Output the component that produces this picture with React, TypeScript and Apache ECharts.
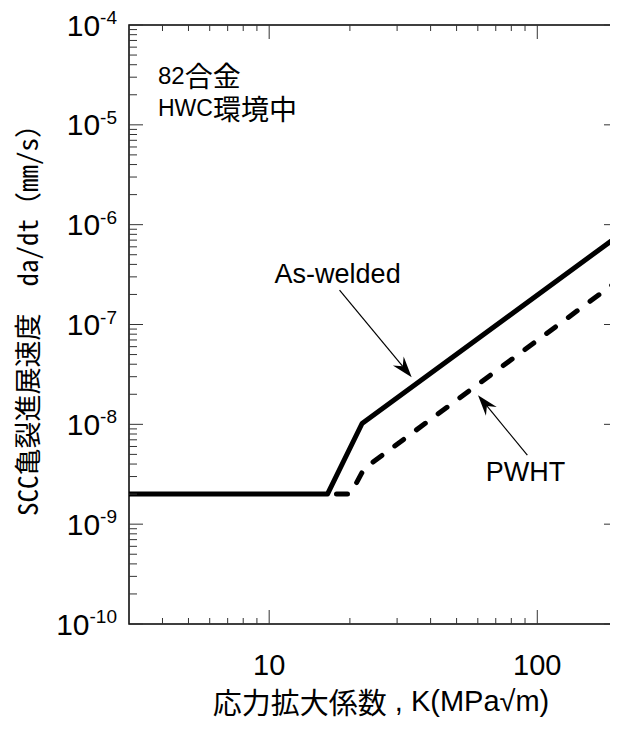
import React, { useEffect, useRef } from "react";
import * as echarts from "echarts";

// ---- data ----
const asWeldedK = [3, 16.5, 22.2, 200];
const asWeldedRate = [2e-9, 2e-9, 1.02e-8, 7.7e-7];
const pwhtK = [16.5, 20.1, 22.6, 200];
const pwhtRate = [2e-9, 2e-9, 3.6e-9, 2.75e-7];

// axis ticks / labels
const xLabelValues = [10, 100];
const xMajorTicks = [10, 100];
const xMinorTicks = [4, 5, 6, 7, 8, 9, 20, 30, 40, 50, 60, 70, 80, 90];
const yExponents = [-10, -9, -8, -7, -6, -5, -4];
const yMantissas = [2, 3, 4, 5, 6, 7, 8, 9];

// annotations (data units)
const arrowNames = ["As-welded", "PWHT"];
const arrowTailK = [18.3, 91.8];
const arrowTailRate = [2.21e-7, 4.91e-9];
const arrowTipK = [34.0, 60.1];
const arrowTipRate = [2.97e-8, 1.96e-8];
const nameK = [18.0, 90.3];
const nameRate = [3.2e-7, 3.32e-9];

const LATIN = '"Liberation Sans", Arial, sans-serif';
const CJK = '"Noto Sans CJK JP", sans-serif';
const MONO_CJK = '"Noto Sans Mono CJK JP", "Noto Sans CJK JP", monospace';

export default function App() {
  const ref = useRef<HTMLDivElement>(null);

  useEffect(() => {
    if (!ref.current) return;
    const chart = echarts.init(ref.current, null, { renderer: "svg" });

    const yMajorTicks = yExponents.map((e) => Math.pow(10, e));
    const yMinorTicks: number[] = [];
    yExponents.slice(0, -1).forEach((e) =>
      yMantissas.forEach((m) => yMinorTicks.push(m * Math.pow(10, e)))
    );

    const tickData: number[][] = [];
    xMajorTicks.forEach((v) => tickData.push([v, 1e-7, 0]));
    xMinorTicks.forEach((v) => tickData.push([v, 1e-7, 1]));
    yMajorTicks.forEach((v) => tickData.push([10, v, 2]));
    yMinorTicks.forEach((v) => tickData.push([10, v, 3]));

    const arrowData = arrowNames.map((_, i) => [
      arrowTipK[i],
      arrowTipRate[i],
      arrowTailK[i],
      arrowTailRate[i],
    ]);
    const nameData = arrowNames.map((_, i) => [nameK[i], nameRate[i]]);

    const tickStyle = { stroke: "#333", lineWidth: 1 };

    const option: any = {
      animation: false,
      backgroundColor: "#fff",
      grid: {
        left: 121,
        top: 17,
        width: 495,
        height: 599,
        show: true,
        borderColor: "#000",
        borderWidth: 1.5,
        backgroundColor: "transparent",
      },
      xAxis: {
        type: "log",
        logBase: 10,
        min: 3,
        max: 200,
        axisLine: { show: false },
        axisTick: { show: false },
        splitLine: { show: false },
        minorTick: { show: false },
        axisLabel: {
          margin: 26,
          color: "#000",
          fontSize: 29,
          lineHeight: 29,
          fontFamily: LATIN,
          showMinLabel: false,
          showMaxLabel: false,
          formatter: (v: number) => {
            const hit = xLabelValues.find((t) => Math.abs(t - v) / t < 1e-6);
            return hit ? String(hit) : "";
          },
        },
      },
      yAxis: {
        type: "log",
        logBase: 10,
        min: 1e-10,
        max: 1e-4,
        axisLine: { show: false },
        axisTick: { show: false },
        splitLine: { show: false },
        minorTick: { show: false },
        axisLabel: {
          margin: 12,
          formatter: (v: number) => {
            const lg = Math.log10(v);
            const e = Math.round(lg);
            if (Math.abs(lg - e) > 0.01) return "";
            return `{b|10}{s|${e}}`;
          },
          rich: {
            b: { fontSize: 30, fontFamily: LATIN, color: "#000", lineHeight: 34 },
            s: {
              fontSize: 19,
              fontFamily: LATIN,
              color: "#000",
              lineHeight: 19,
              verticalAlign: "top",
            },
          },
        },
      },
      series: [
        {
          name: "PWHT",
          type: "line",
          symbol: "none",
          data: pwhtK.map((k, i) => [k, pwhtRate[i]]),
          lineStyle: {
            color: "#000",
            width: 5,
            type: [11, 16],
            dashOffset: 17.5,
            cap: "round",
            join: "round",
          },
          z: 3,
        },
        {
          name: "As-welded",
          type: "line",
          symbol: "none",
          data: asWeldedK.map((k, i) => [k, asWeldedRate[i]]),
          lineStyle: { color: "#000", width: 5, cap: "butt", join: "round" },
          z: 4,
        },
        {
          type: "custom",
          name: "ticks",
          clip: false,
          silent: true,
          encode: { x: 0, y: 1 },
          data: tickData,
          z: 5,
          renderItem: (params: any, api: any) => {
            const cs = params.coordSys;
            const kind = api.value(2);
            const p = api.coord([api.value(0), api.value(1)]);
            const bottom = cs.y + cs.height;
            const right = cs.x + cs.width;
            if (kind < 2) {
              const len = kind === 0 ? 14 : 6;
              const x = p[0];
              return {
                type: "group",
                children: [
                  { type: "line", shape: { x1: x, y1: bottom, x2: x, y2: bottom - len }, style: tickStyle },
                  { type: "line", shape: { x1: x, y1: cs.y, x2: x, y2: cs.y + len }, style: tickStyle },
                ],
              };
            }
            const len = kind === 2 ? 14 : 8;
            const y = p[1];
            return {
              type: "group",
              children: [
                { type: "line", shape: { x1: cs.x, y1: y, x2: cs.x + len, y2: y }, style: tickStyle },
                { type: "line", shape: { x1: right, y1: y, x2: right - len, y2: y }, style: tickStyle },
              ],
            };
          },
        },
        {
          type: "custom",
          name: "arrows",
          clip: false,
          silent: true,
          encode: { x: [0, 2], y: [1, 3] },
          data: arrowData,
          z: 6,
          renderItem: (params: any, api: any) => {
            const tip = api.coord([api.value(0), api.value(1)]);
            const tail = api.coord([api.value(2), api.value(3)]);
            const dx = tip[0] - tail[0];
            const dy = tip[1] - tail[1];
            const L = Math.sqrt(dx * dx + dy * dy);
            const ux = dx / L;
            const uy = dy / L;
            const nx = -uy;
            const ny = ux;
            const head = 21;
            const half = 7;
            const notch = 14;
            const w1 = [tip[0] - ux * head + nx * half, tip[1] - uy * head + ny * half];
            const w2 = [tip[0] - ux * head - nx * half, tip[1] - uy * head - ny * half];
            const nt = [tip[0] - ux * notch, tip[1] - uy * notch];
            return {
              type: "group",
              children: [
                {
                  type: "line",
                  shape: { x1: tail[0], y1: tail[1], x2: nt[0], y2: nt[1] },
                  style: { stroke: "#000", lineWidth: 1.2 },
                },
                {
                  type: "polygon",
                  shape: { points: [tip, w1, nt, w2] },
                  style: { fill: "#000" },
                },
              ],
            };
          },
        },
        {
          type: "custom",
          name: "names",
          clip: false,
          silent: true,
          encode: { x: 0, y: 1 },
          data: nameData,
          z: 6,
          renderItem: (params: any, api: any) => {
            const p = api.coord([api.value(0), api.value(1)]);
            return {
              type: "text",
              x: p[0],
              y: p[1],
              style: {
                text: arrowNames[params.dataIndex],
                fill: "#000",
                fontSize: 27,
                fontFamily: LATIN,
                align: "center",
                verticalAlign: "middle",
              },
            };
          },
        },
      ],
      graphic: [
        {
          type: "text",
          x: 150,
          y: 67,
          style: {
            text: "{l|82}{c|合金}",
            verticalAlign: "middle",
            align: "left",
            rich: {
              l: { fontSize: 24, fontFamily: LATIN, fill: "#000" },
              c: { fontSize: 28, fontFamily: CJK, fill: "#000" },
            },
          },
        },
        {
          type: "text",
          x: 150,
          y: 100,
          style: {
            text: "{l|HWC}{c|環境中}",
            verticalAlign: "middle",
            align: "left",
            rich: {
              l: { fontSize: 23, fontFamily: LATIN, fill: "#000" },
              c: { fontSize: 28, fontFamily: CJK, fill: "#000" },
            },
          },
        },
        {
          type: "text",
          x: 18,
          y: 305.5,
          rotation: Math.PI / 2,
          style: {
            text: "SCC亀裂進展速度　da/dt（mm/s）",
            fontSize: 27,
            fontFamily: MONO_CJK,
            fill: "#000",
            align: "center",
            verticalAlign: "middle",
          },
        },
        {
          type: "text",
          x: 373,
          y: 693,
          style: {
            text: "{c|応力拡大係数}{l| , K(MPa√m)}",
            align: "center",
            verticalAlign: "middle",
            rich: {
              c: { fontSize: 29, fontFamily: CJK, fill: "#000" },
              l: { fontSize: 29, fontFamily: LATIN, fill: "#000" },
            },
          },
        },
      ],
    };

    chart.setOption(option);
    return () => chart.dispose();
  }, []);

  return <div ref={ref} style={{ width: 610, height: 720 }} />;
}
